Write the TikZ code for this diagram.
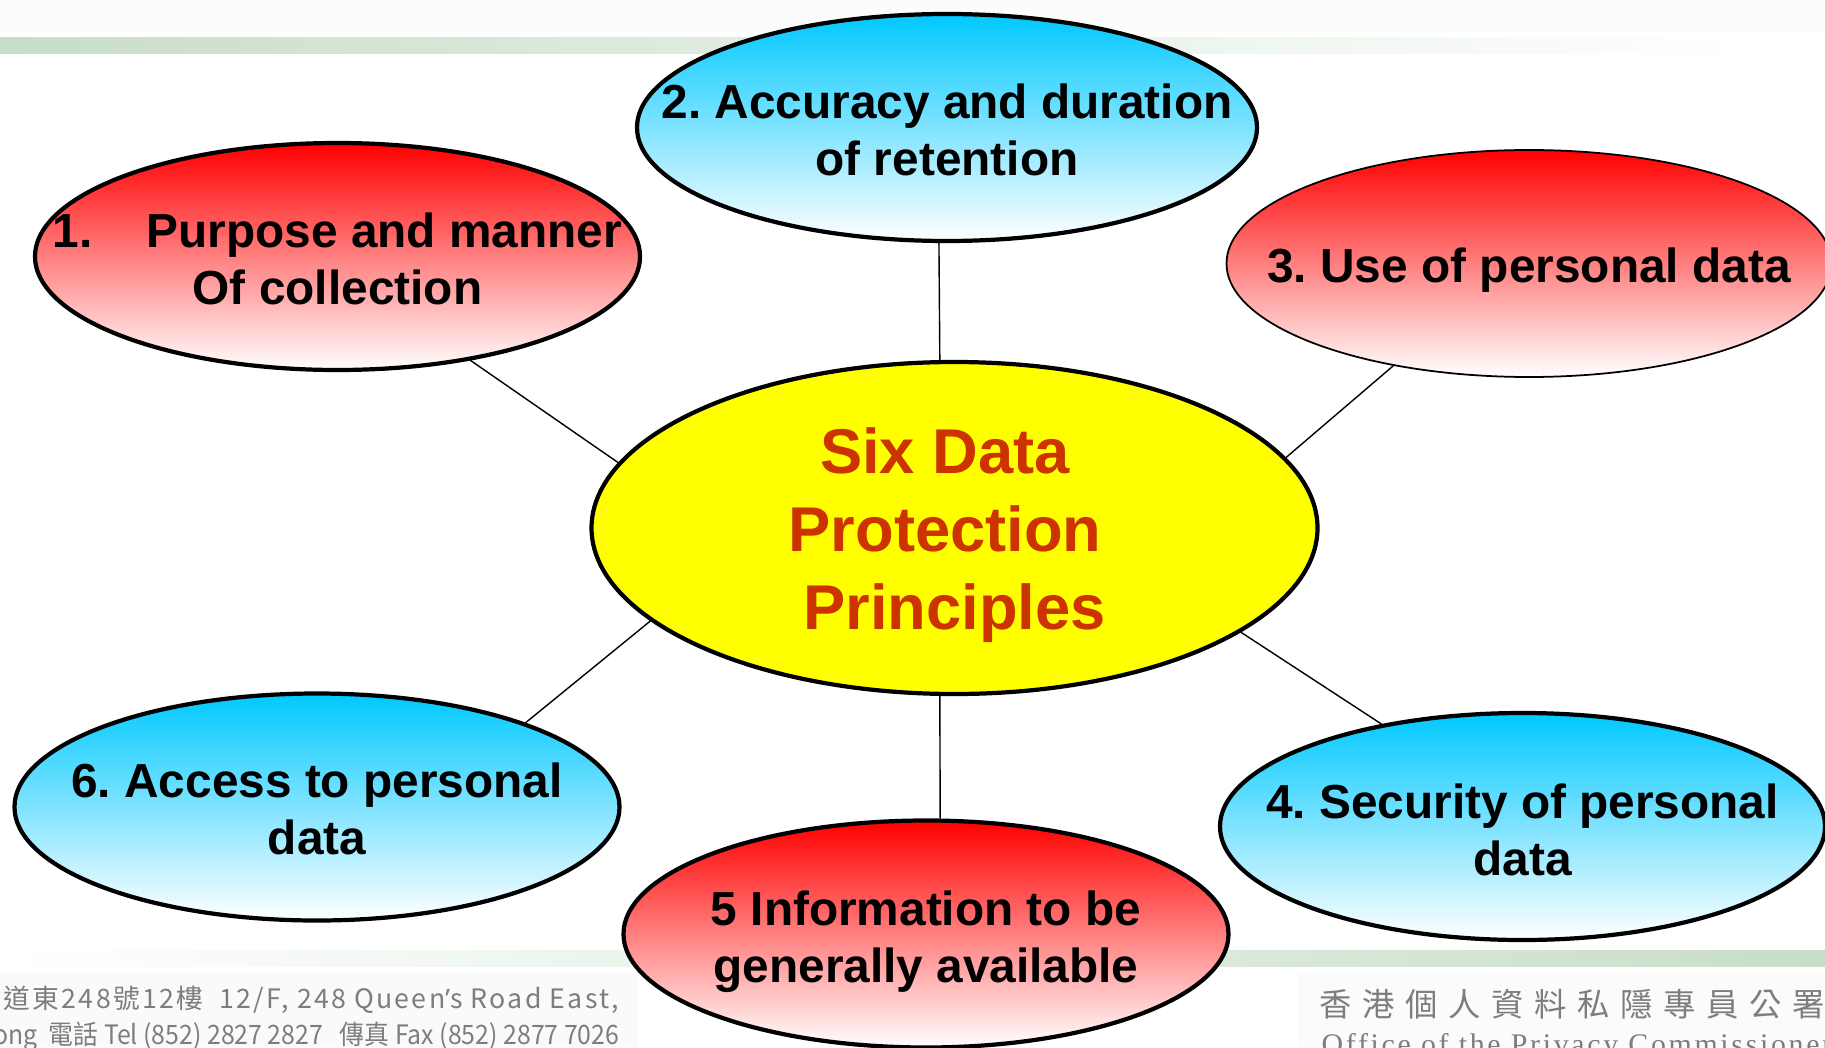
\documentclass[tikz,border=0pt]{standalone}
\usepackage{fontspec}
\setmainfont{Liberation Sans}
\newfontfamily\cjkfont{Noto Sans CJK TC}[LetterSpace=8.5]
\newfontfamily\cjknarrow{Noto Sans CJK TC}[FakeStretch=0.93]
\newfontfamily\cjkwide{Noto Sans CJK TC}[LetterSpace=33]
\newfontfamily\quotefont{Noto Sans}
\newfontfamily\serifwide{Liberation Serif}[LetterSpace=9]
\usetikzlibrary{shapes.geometric}
\definecolor{barG}{RGB}{200,222,200}
\definecolor{skyB}{RGB}{0,200,255}
\definecolor{coreY}{RGB}{255,255,0}
\definecolor{titleR}{RGB}{204,51,0}
\definecolor{footG}{RGB}{125,125,125}
\frenchspacing
\tikzset{
  bubble/.style={ellipse,draw,line width=1.2pt,minimum width=6.05cm,minimum height=2.27cm,inner sep=0pt},
  redb/.style={bubble,top color=red,bottom color=white},
  blueb/.style={bubble,top color=skyB,bottom color=white},
  txt/.style={align=center,font=\fontsize{13.6}{16.2}\selectfont\bfseries},
  link/.style={line width=0.4pt},
  foot/.style={text=footG,inner sep=0pt}
}
\begin{document}
\begin{tikzpicture}
\useasboundingbox (0,0) rectangle (18.25,10.47);
\clip (0,0) rectangle (18.25,10.47);
\fill[gray!2] (0,10.15) rectangle (18.25,10.47);
\shade[left color=barG,right color=white] (0,9.93) rectangle (17.46,10.09);
\shade[left color=white,right color=barG] (0,0.81) rectangle (18.25,0.97);
\fill[gray!4] (0,0) rectangle (6.38,0.75);
\fill[gray!3] (12.98,0) rectangle (18.25,0.75);
\node[foot,anchor=base east,font=\cjkfont\fontsize{7.6}{9}\selectfont] (addr) at (6.2,0.39) {道東248號12樓\ \ 12/F, 248 Queen{\quotefont’}s Road East,};
\node[foot,anchor=base east,font=\cjknarrow\fontsize{7.6}{9}\selectfont] (tel) at (6.2,0.03) {ong\ \ 電話 Tel (852) 2827 2827\ \ \ 傳真 Fax (852) 2877 7026};
\node[foot,anchor=base west,font=\cjkwide\fontsize{9.2}{10}\selectfont] (office) at (13.19,0.31) {香港個人資料私隱專員公署};
\node[foot,anchor=base west,font=\serifwide\fontsize{8.5}{10}\selectfont] (officeen) at (13.21,-0.07) {Office of the Privacy Commissioner};
\node[redb,label={[txt,yshift=-0.02cm]center:{1.\hspace{0.54cm}Purpose and manner\\Of collection}}] (e1) at (3.375,7.905) {};
\node[blueb,minimum width=6.2cm,label={[txt,yshift=-0.02cm]center:{2. Accuracy and duration\\of retention}}] (e2) at (9.47,9.195) {};
\node[redb,line width=0.5pt,label={[txt,yshift=-0.07cm]center:{3. Use of personal data}}] (e3) at (15.29,7.835) {};
\node[blueb,label={[txt,yshift=-0.03cm]center:{4. Security of personal\\data}}] (e4) at (15.225,2.205) {};
\node[redb,label={[txt,yshift=-0.08cm]center:{5 Information to be\\generally available}}] (e5) at (9.26,1.13) {};
\node[blueb,label={[txt,yshift=-0.02cm]center:{6. Access to personal\\data}}] (e6) at (3.17,2.40) {};
\node[bubble,fill=coreY,minimum width=7.26cm,minimum height=3.32cm,
  label={[align=center,text=titleR,font=\fontsize{18}{22.1}\selectfont\bfseries,xshift=-0.095cm,yshift=-0.073cm]center:{Six Data\\Protection\\\hspace{0.19cm}Principles}}] (core) at (9.545,5.19) {};
\draw[link] (e1.-38.5) -- (core.169);
\draw[link] (e2.-94) -- (core.95);
\draw[link] (e3.-143.5) -- (core.12.6);
\draw[link] (core.-20.4) -- (e4.144.9);
\draw[link] (core.-95.3) -- (e5.83.5);
\draw[link] (core.-163) -- (e6.22.7);
\end{tikzpicture}
\end{document}
